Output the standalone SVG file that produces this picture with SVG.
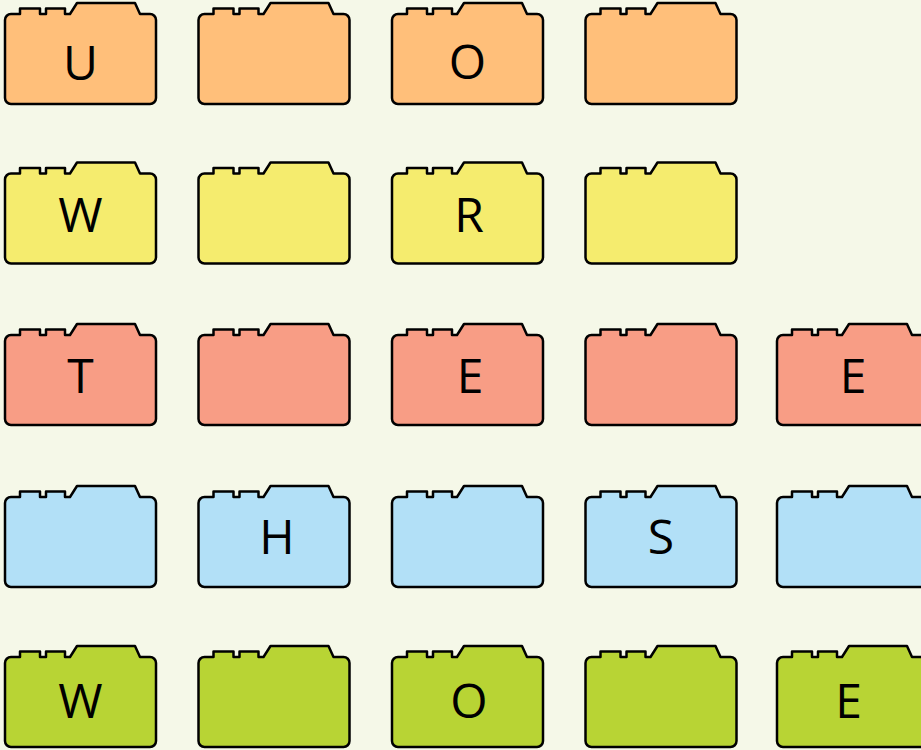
<svg xmlns="http://www.w3.org/2000/svg" xmlns:xlink="http://www.w3.org/1999/xlink" width="921" height="750" viewBox="0 0 921 750">
<style>
.t{font-family:"Open Sans","Liberation Sans",sans-serif;font-size:48px;fill:#000;text-anchor:middle}
.o{fill:#FFBF7A}.y{fill:#F5EC6E}.r{fill:#F89D85}.b{fill:#B2E0F7}.g{fill:#B8D434}
</style>
<defs>
<path id="tile" d="M0,6 A6,6 0 0 1 6,0 L15,0 L15,-5.5 L35,-5.5 L35,0 L41,0 L41,-5.5 L60,-5.5 L60,0 L65,0 L72,-11 L130,-11 L135,0 L145,0 A6,6 0 0 1 151,6 L151,84 A6,6 0 0 1 145,90 L6,90 A6,6 0 0 1 0,84 Z" stroke="#000" stroke-width="2.5" stroke-linejoin="round"/>
</defs>
<rect width="921" height="750" fill="#F5F8E8"/>
<g id="nodes">
<g id="r1c1"><use xlink:href="#tile" class="o" transform="translate(5,14)"/><text class="t" x="80.5" y="80">U</text></g>
<g id="r1c2"><use xlink:href="#tile" class="o" transform="translate(198.5,14)"/></g>
<g id="r1c3"><use xlink:href="#tile" class="o" transform="translate(392,14)"/><text class="t" x="467.5" y="79">O</text></g>
<g id="r1c4"><use xlink:href="#tile" class="o" transform="translate(585.5,14)"/></g>

<g id="r2c1"><use xlink:href="#tile" class="y" transform="translate(5,173.5)"/><text class="t" x="80.5" y="232">W</text></g>
<g id="r2c2"><use xlink:href="#tile" class="y" transform="translate(198.5,173.5)"/></g>
<g id="r2c3"><use xlink:href="#tile" class="y" transform="translate(392,173.5)"/><text class="t" x="469" y="232">R</text></g>
<g id="r2c4"><use xlink:href="#tile" class="y" transform="translate(585.5,173.5)"/></g>

<g id="r3c1"><use xlink:href="#tile" class="r" transform="translate(5,335)"/><text class="t" x="80.5" y="393">T</text></g>
<g id="r3c2"><use xlink:href="#tile" class="r" transform="translate(198.5,335)"/></g>
<g id="r3c3"><use xlink:href="#tile" class="r" transform="translate(392,335)"/><text class="t" x="470" y="393">E</text></g>
<g id="r3c4"><use xlink:href="#tile" class="r" transform="translate(585.5,335)"/></g>
<g id="r3c5"><use xlink:href="#tile" class="r" transform="translate(777,335)"/><text class="t" x="853" y="393">E</text></g>

<g id="r4c1"><use xlink:href="#tile" class="b" transform="translate(5,497)"/></g>
<g id="r4c2"><use xlink:href="#tile" class="b" transform="translate(198.5,497)"/><text class="t" x="277" y="554">H</text></g>
<g id="r4c3"><use xlink:href="#tile" class="b" transform="translate(392,497)"/></g>
<g id="r4c4"><use xlink:href="#tile" class="b" transform="translate(585.5,497)"/><text class="t" x="661" y="554">S</text></g>
<g id="r4c5"><use xlink:href="#tile" class="b" transform="translate(777,497)"/></g>

<g id="r5c1"><use xlink:href="#tile" class="g" transform="translate(5,657)"/><text class="t" x="80.5" y="718">W</text></g>
<g id="r5c2"><use xlink:href="#tile" class="g" transform="translate(198.5,657)"/></g>
<g id="r5c3"><use xlink:href="#tile" class="g" transform="translate(392,657)"/><text class="t" x="469" y="718">O</text></g>
<g id="r5c4"><use xlink:href="#tile" class="g" transform="translate(585.5,657)"/></g>
<g id="r5c5"><use xlink:href="#tile" class="g" transform="translate(777,657)"/><text class="t" x="848.5" y="718">E</text></g>
</g>
<g id="connectors"/>
</svg>
